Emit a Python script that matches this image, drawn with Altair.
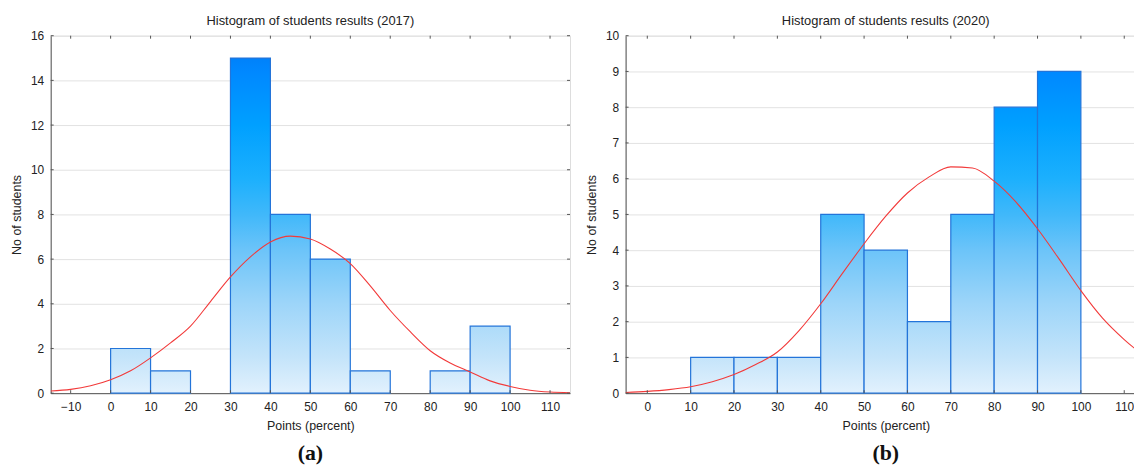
import altair as alt
import pandas as pd

# ---------------- data ----------------
bin_left = [0, 10, 20, 30, 40, 50, 60, 70, 80, 90]
bin_right = [10, 20, 30, 40, 50, 60, 70, 80, 90, 100]
counts_2017 = [2, 1, 0, 15, 8, 6, 1, 0, 1, 3]
counts_2020 = [0, 1, 1, 1, 5, 4, 2, 5, 8, 9]

curve_x_2017 = [-15, -10, -5, 0, 5, 10, 15, 20, 25, 30, 35, 40, 45, 50, 55,
                60, 65, 70, 75, 80, 85, 90, 95, 100, 105, 110, 115]
curve_y_2017 = [0.1, 0.17, 0.33, 0.6, 1.0, 1.58, 2.25, 3.0, 4.1, 5.2, 6.1, 6.77,
                7.03, 6.9, 6.45, 5.8, 4.8, 3.7, 2.75, 1.9, 1.35, 0.95, 0.55, 0.3,
                0.13, 0.05, 0.02]

curve_x_2020 = [-5, 0, 5, 10, 15, 20, 25, 30, 35, 40, 45, 50, 55, 60, 65, 70,
                75, 80, 85, 90, 95, 100, 105, 110, 115]
curve_y_2020 = [0.02, 0.05, 0.1, 0.18, 0.32, 0.52, 0.8, 1.15, 1.75, 2.5, 3.35,
                4.18, 4.95, 5.6, 6.05, 6.33, 6.3, 5.93, 5.35, 4.6, 3.75, 2.87,
                2.1, 1.5, 1.0]

x_ticks_2017 = [-10, 0, 10, 20, 30, 40, 50, 60, 70, 80, 90, 100, 110]
x_ticks_2020 = [0, 10, 20, 30, 40, 50, 60, 70, 80, 90, 100, 110]
y_ticks_2017 = [0, 2, 4, 6, 8, 10, 12, 14, 16]
y_ticks_2020 = [0, 1, 2, 3, 4, 5, 6, 7, 8, 9, 10]

titles = ["Histogram of students results (2017)", "Histogram of students results (2020)"]
letters = ["(a)", "(b)"]

# ---------------- styling ----------------
FONT = "Liberation Sans"
GRAD_STOPS = [(0.0, "#0077f2"), (0.1, "#0088ff"), (0.25, "#00a0ff"), (0.4, "#1cb0fd"),
              (0.5, "#40b8fa"), (0.6, "#6cc4f9"), (0.75, "#9dd5f9"), (0.9, "#c4e4fa"),
              (1.0, "#e2f1fd")]
FRAME = "#555555"


def bar_gradient(count, ymax):
    r = count / ymax
    return alt.Gradient(
        gradient="linear",
        x1=0, x2=0, y1=1 - 1 / r, y2=1,
        stops=[alt.GradientStop(offset=o, color=c) for o, c in GRAD_STOPS],
    )


def panel(counts, cx, cy, xdomain, xticks, ymax, yticks, title, letter, width, height):
    xs = alt.Scale(domain=xdomain, nice=False, zero=False)
    ys = alt.Scale(domain=[0, ymax], nice=False)
    xaxis = alt.Axis(
        values=xticks, title="Points (percent)", grid=False, ticks=False, tickSize=0,
        labelPadding=8, titlePadding=8, labelFont=FONT, titleFont=FONT,
        labelFontSize=12, titleFontSize=12.5, labelColor="#222", titleColor="#222",
        titleFontWeight="normal", domainColor=FRAME, labelFlush=False,
        labelOverlap=False, format="d")
    yaxis = alt.Axis(
        values=yticks, title="No of students", grid=True, gridColor="#e2e2e2",
        ticks=False, tickSize=0, labelPadding=7, titlePadding=7, labelFont=FONT,
        titleFont=FONT, labelFontSize=12, titleFontSize=12.5, labelColor="#222",
        titleColor="#222", titleFontWeight="normal", domainColor=FRAME,
        labelOverlap=False, format="d")
    X = lambda f: alt.X(f, scale=xs, axis=xaxis)
    Y = lambda f: alt.Y(f, scale=ys, axis=yaxis)

    cdf = pd.DataFrame({"x": cx, "y": cy})
    base = alt.Chart(cdf).mark_line(strokeOpacity=0).encode(x=X("x:Q"), y=Y("y:Q"))
    layers = [base]
    for lo, hi, c in zip(bin_left, bin_right, counts):
        if c == 0:
            continue
        d = pd.DataFrame({"x": [lo], "hi": [hi], "y": [c], "z": [0]})
        layers.append(
            alt.Chart(d).mark_rect(
                fill=bar_gradient(c, ymax), stroke="#2374d9", strokeWidth=1.2
            ).encode(x=X("x:Q"), x2="hi:Q", y=Y("y:Q"), y2="z:Q")
        )
    curve = alt.Chart(cdf).mark_line(
        color="#f23a3a", strokeWidth=1.1, clip=True, interpolate="monotone"
    ).encode(x=X("x:Q"), y=Y("y:Q"))
    # inward tick marks on all four sides
    xt = pd.DataFrame({"x": xticks})
    yt = pd.DataFrame({"y": yticks})
    tb = alt.Chart(xt).mark_rule(color=FRAME, strokeWidth=1).encode(
        x=X("x:Q"), y=alt.value(height), y2=alt.value(height - 3))
    tt = alt.Chart(xt).mark_rule(color=FRAME, strokeWidth=1).encode(
        x=X("x:Q"), y=alt.value(0), y2=alt.value(3))
    tl = alt.Chart(yt).mark_rule(color=FRAME, strokeWidth=1).encode(
        y=Y("y:Q"), x=alt.value(0), x2=alt.value(3))
    tr = alt.Chart(yt).mark_rule(color=FRAME, strokeWidth=1).encode(
        y=Y("y:Q"), x=alt.value(width), x2=alt.value(width - 3))
    lab = alt.Chart(pd.DataFrame({"s": [letter]})).mark_text(
        font="Liberation Serif", fontSize=22, fontWeight="bold", color="#111",
        baseline="middle", align="center"
    ).encode(text="s:N", x=alt.value(width / 2), y=alt.value(height + 60))
    return alt.layer(*layers, curve, tb, tt, tl, tr, lab).properties(
        width=width, height=height,
        title=alt.Title(title, font=FONT, fontSize=13, fontWeight="normal",
                        color="#222", offset=2),
    )


left = panel(counts_2017, curve_x_2017, curve_y_2017, [-15, 115], x_ticks_2017,
             16, y_ticks_2017, titles[0], letters[0], 523, 360)
right = panel(counts_2020, curve_x_2020, curve_y_2020, [-5, 115], x_ticks_2020,
              10, y_ticks_2020, titles[1], letters[1], 524, 360)

chart = alt.hconcat(left, right, spacing=14).properties(
    autosize=alt.AutoSizeParams(type="none"),
    padding={"left": 43, "top": 25, "right": 1091, "bottom": 430},
).configure_view(stroke=FRAME, strokeWidth=1).configure(background="white")

chart.save("out.html", embed_options={"renderer": "svg", "actions": False})
